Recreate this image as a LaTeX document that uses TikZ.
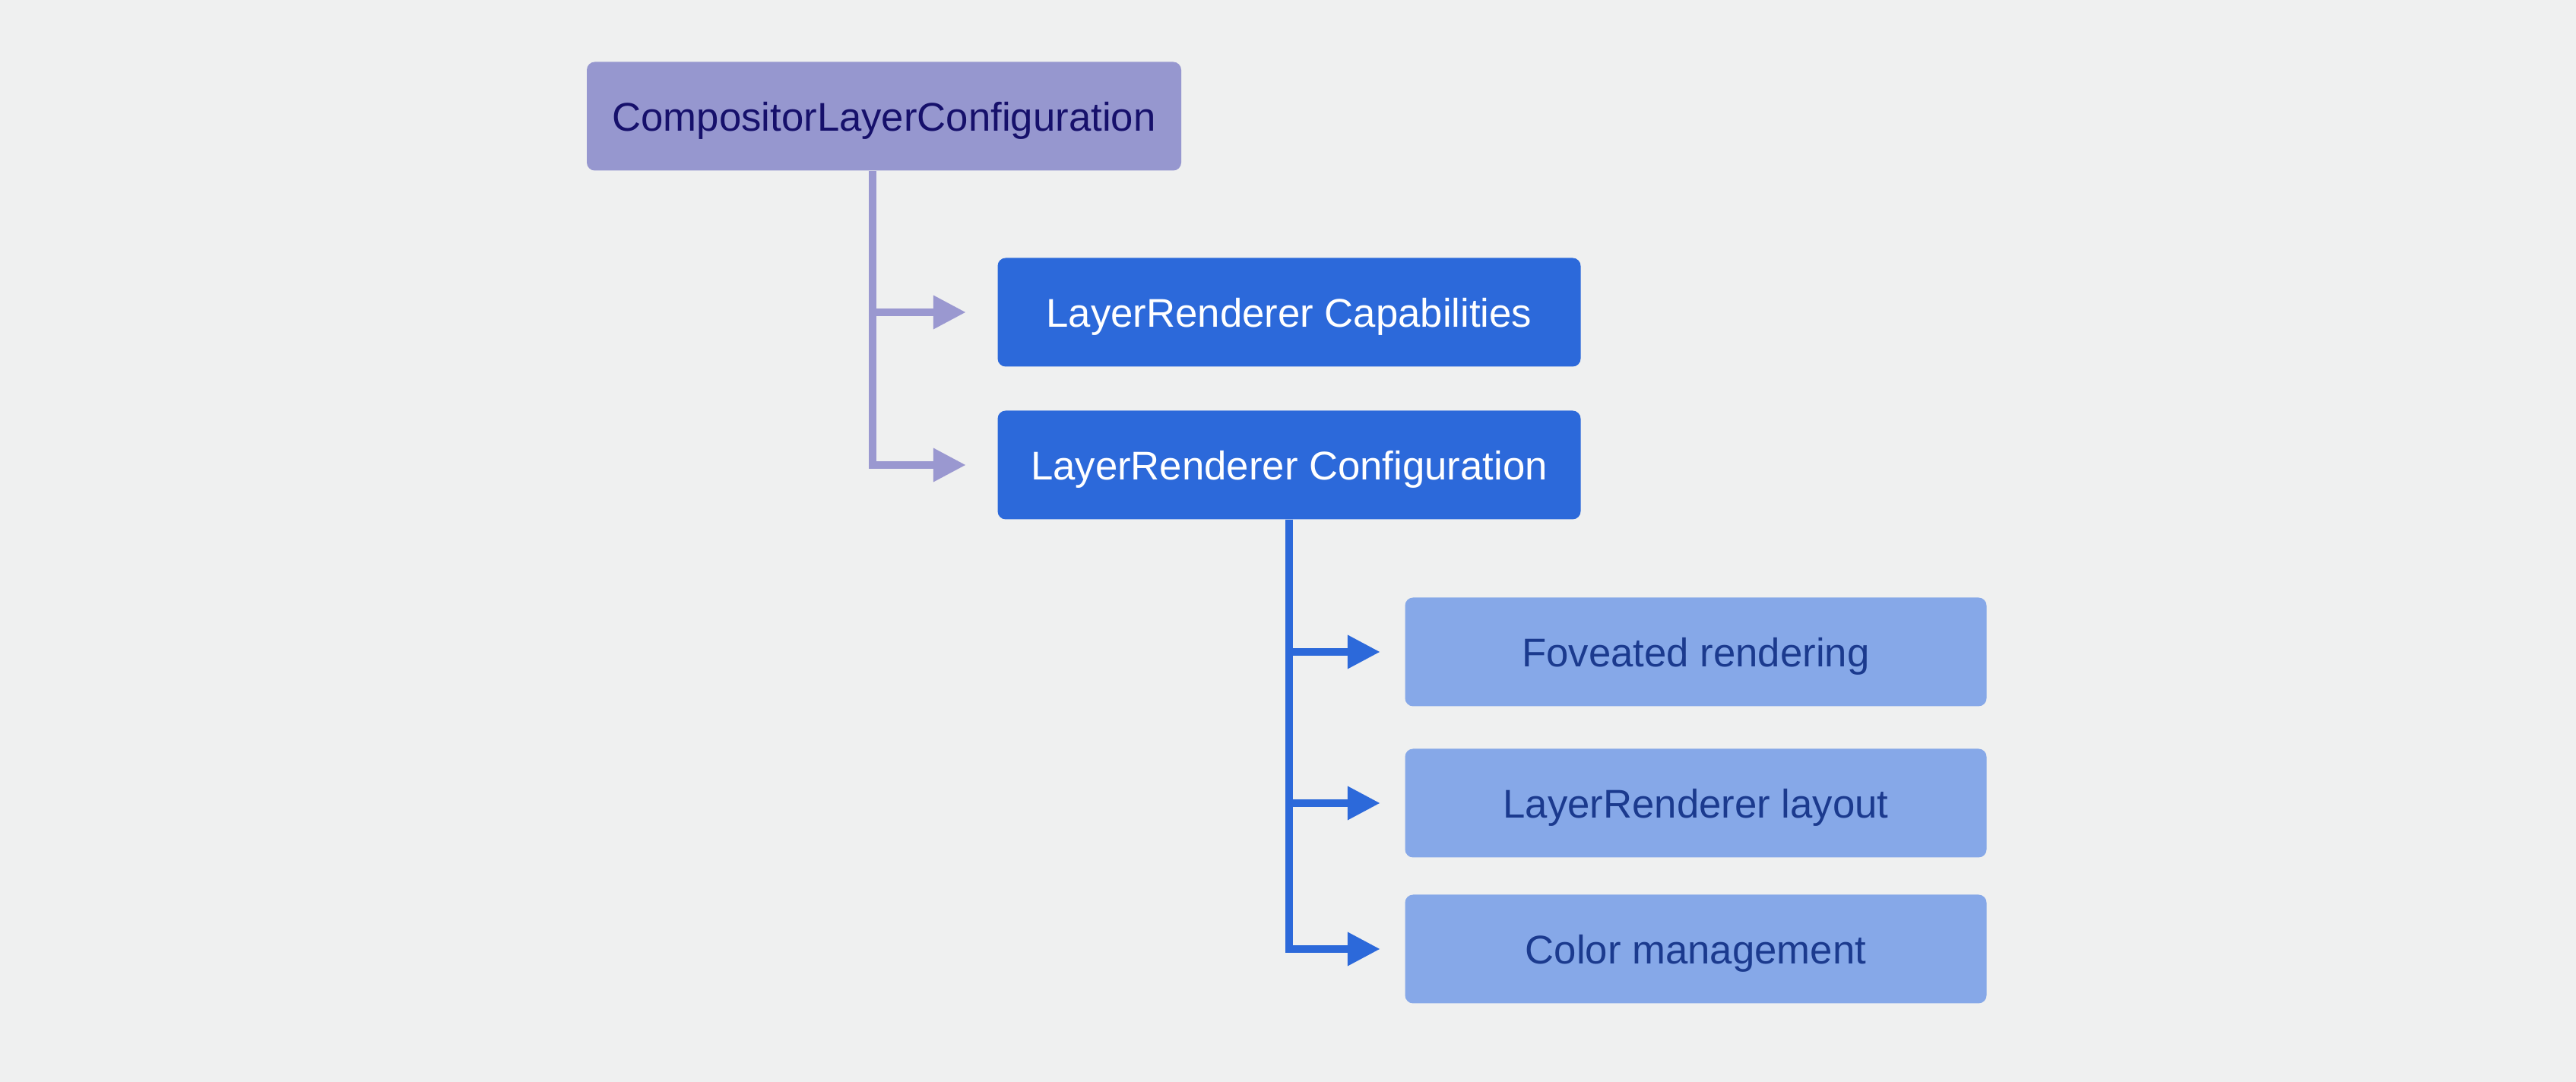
\documentclass[tikz,border=0pt]{standalone}
\usepackage{fontspec}
\setmainfont{Liberation Sans}
\usetikzlibrary{arrows.meta}

\definecolor{pagebg}{HTML}{EFF0F0}
\definecolor{rootfill}{HTML}{9697CF}
\definecolor{roottext}{HTML}{16106B}
\definecolor{mainfill}{HTML}{2C69DA}
\definecolor{subfill}{HTML}{86A8E8}
\definecolor{subtext}{HTML}{1B3A8E}
\definecolor{rootline}{HTML}{9A98D0}

\begin{document}
\begin{tikzpicture}[
  box/.style={rounded corners=3pt,minimum height=1.43cm,inner sep=0pt,
    text height=11pt,text depth=0pt,font=\fontsize{15}{18}\selectfont},
  rootbox/.style={box,fill=rootfill,text=roottext,minimum width=7.82cm},
  mainbox/.style={box,fill=mainfill,text=white,minimum width=7.67cm},
  subbox/.style={box,fill=subfill,text=subtext,minimum width=7.65cm},
  purplelink/.style={rootline,line width=1mm,line join=miter,
    -{Triangle[length=4.3mm,width=4.2mm]}},
  bluelink/.style={mainfill,line width=1mm,line join=miter,
    -{Triangle[length=4.3mm,width=4.2mm]}}
]
  \fill[pagebg] (0,0) rectangle (33.89,14.24);
  \useasboundingbox (0,0) rectangle (33.89,14.24);

  \node[rootbox] (comp) at (11.63,12.71) {CompositorLayerConfiguration};
  \node[mainbox] (caps) at (16.96,10.13) {LayerRenderer Capabilities};
  \node[mainbox] (conf) at (16.96,8.12) {LayerRenderer Configuration};
  \node[subbox] (fov) at (22.31,5.66) {Foveated rendering};
  \node[subbox] (lay) at (22.31,3.67) {LayerRenderer layout};
  \node[subbox] (col) at (22.31,1.75) {Color management};

  % first level
  \coordinate (rootbus) at ([xshift=-1.5mm]comp.south);
  \draw[purplelink] (rootbus) |- ([xshift=-4.1mm]conf.west);
  \draw[purplelink] (rootbus |- caps) -- ([xshift=-4.1mm]caps.west);

  % second level
  \draw[bluelink] (conf.south) |- ([xshift=-3.2mm]col.west);
  \draw[bluelink] (conf.south |- fov) -- ([xshift=-3.2mm]fov.west);
  \draw[bluelink] (conf.south |- lay) -- ([xshift=-3.2mm]lay.west);
\end{tikzpicture}
\end{document}
